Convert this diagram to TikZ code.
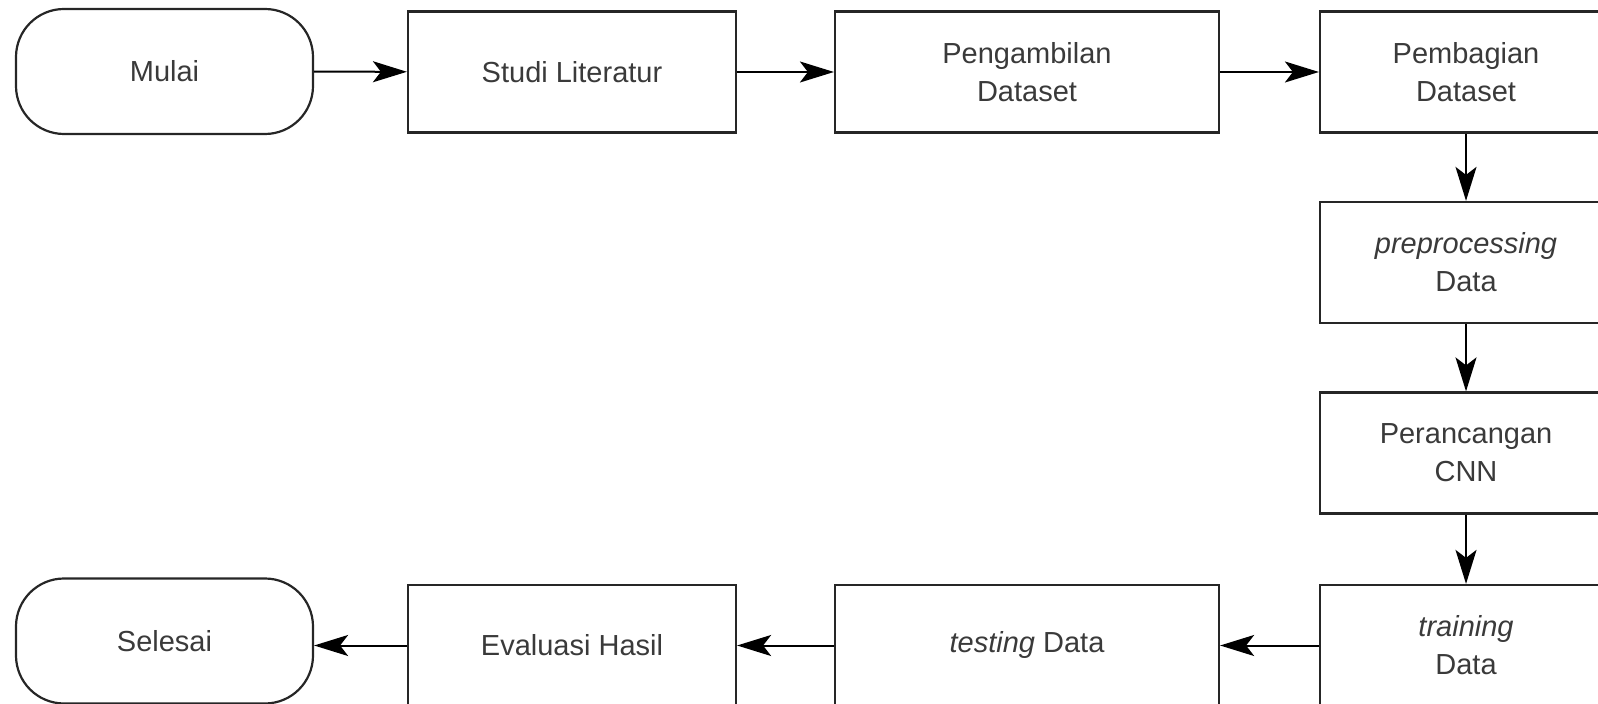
\documentclass[tikz,border=0pt]{standalone}
\usepackage{fontspec}
\setmainfont{Liberation Sans}
\usepackage{xcolor}
\usetikzlibrary{arrows.meta}

\definecolor{txtgray}{HTML}{3A3A3A}

\begin{document}
\begin{tikzpicture}[x=0.5pt, y=-0.5pt,
    box/.style={draw=black!85, line width=1.1pt, minimum height=60.5pt, align=center,
        text=txtgray, font=\fontsize{14.5}{19}\selectfont, inner sep=0pt},
    term/.style={box, rounded corners=24pt, minimum width=148.5pt, minimum height=62.5pt},
    ->/.style={-{Stealth[length=17pt, width=10.5pt, inset=4pt]}, line width=1pt, draw=black}]
    \useasboundingbox (0,0) rectangle (1598,704);
    % top row
    \node [term] (mulai) at (164.5,71.5) {Mulai};
    \node [box, minimum width=164pt] (studi) at (572,72) {Studi Literatur};
    \node [box, minimum width=192pt] (ambil) at (1027,72) {Pengambilan\\Dataset};
    \node [box, minimum width=146pt] (bagi) at (1466,72) {Pembagian\\Dataset};
    % right column
    \node [box, minimum width=146pt] (prep) at (1466,262.5) {\textit{preprocessing}\\Data};
    \node [box, minimum width=146pt] (cnn) at (1466,453) {Perancangan\\CNN};
    \node [box, minimum width=146pt] (train) at (1466,645.5) {\textit{training}\\Data};
    % bottom row
    \node [box, minimum width=192pt] (test) at (1027,645.5) {\textit{testing} Data};
    \node [box, minimum width=164pt] (eval) at (572,645.5) {Evaluasi Hasil};
    \node [term] (selesai) at (164.5,641) {Selesai};
    \draw [->] (mulai) -- (studi);
    \draw [->] (studi) -- (ambil);
    \draw [->] (ambil) -- (bagi);
    \draw [->] (bagi) -- (prep);
    \draw [->] (prep) -- (cnn);
    \draw [->] (cnn) -- (train);
    \draw [->] (train) -- (test);
    \draw [->] (test) -- (eval);
    \draw [->] (eval) -- (eval -| selesai.east);
\end{tikzpicture}
\end{document}
